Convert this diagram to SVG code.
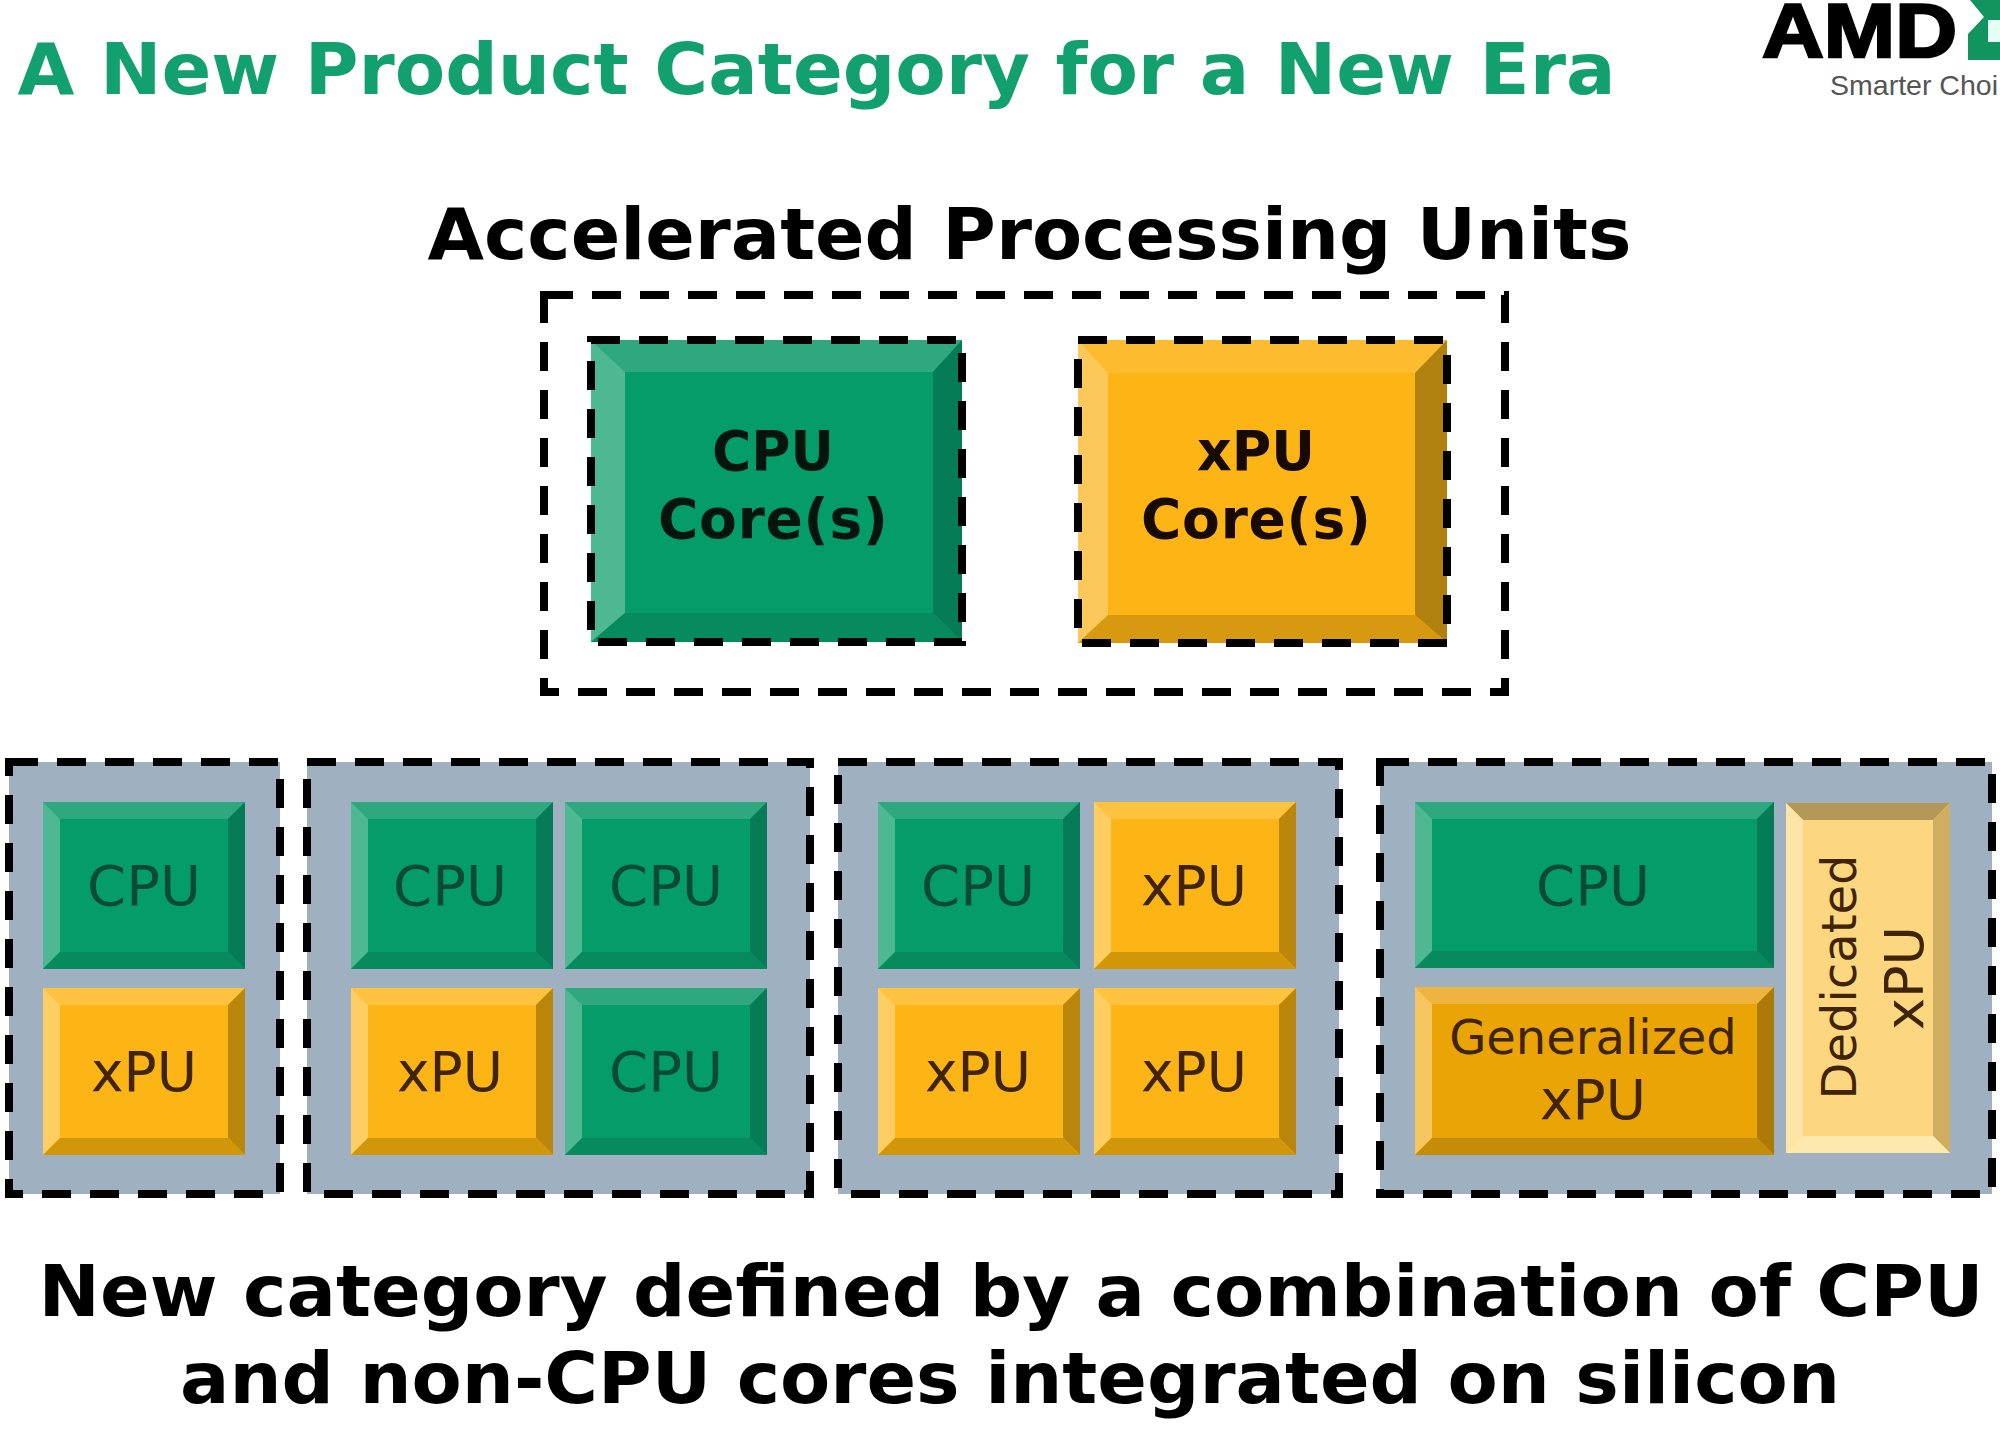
<svg xmlns="http://www.w3.org/2000/svg" xmlns:xlink="http://www.w3.org/1999/xlink" width="2000" height="1432" viewBox="0 0 2000 1432">
<style>
text{font-family:"DejaVu Sans","Liberation Sans",sans-serif;text-anchor:middle}
.h{font-weight:700;font-size:72px;fill:#000}
.title{fill:#12a06f}
.core{font-weight:700;font-size:55px;fill:#04150e}
.corex{font-weight:700;font-size:55px;fill:#170a00}
.cc{font-size:56px;fill:#0b4a35}
.xc{font-size:55px;fill:#3f2408}
.dash{fill:none;stroke:#000;stroke-width:8;stroke-dasharray:29 19}
.panel{fill:#9fb0c0}
</style>
<defs>
<g id="cpu-cell">
<rect width="202" height="167" fill="#049d6a"/>
<polygon points="0,0 202,0 185,17 17,17" fill="#2fa77f"/>
<polygon points="0,0 17,17 17,150 0,167" fill="#4db892"/>
<polygon points="202,0 202,167 185,150 185,17" fill="#057c55"/>
<polygon points="0,167 17,150 185,150 202,167" fill="#078a5e"/>
</g>
<g id="xpu-cell">
<rect width="202" height="167" fill="#fdb515"/>
<polygon points="0,0 202,0 185,17 17,17" fill="#fdc23f"/>
<polygon points="0,0 17,17 17,150 0,167" fill="#ffce62"/>
<polygon points="202,0 202,167 185,150 185,17" fill="#bb860c"/>
<polygon points="0,167 17,150 185,150 202,167" fill="#d2960a"/>
</g>
</defs>
<rect width="2000" height="1432" fill="#fff"/>
<text class="h title" x="816.500" y="94" textLength="1598" lengthAdjust="spacingAndGlyphs">A New Product Category for a New Era</text>
<g id="amd-logo">
<text x="1762" y="57" stroke="#000" stroke-width="2.500" style="text-anchor:start;font-family:'Liberation Sans',sans-serif;font-weight:700;font-size:76px" textLength="195" lengthAdjust="spacingAndGlyphs">AMD</text>
<polygon points="1970,0 2000,0 2000,20 1988,20 1988,42 2000,42 2000,60 1968,60 1968,34 1984,17" fill="#12945f"/>
<rect x="1988" y="20" width="12" height="22" fill="#e6fdf4"/>
<text x="1830" y="95" style="text-anchor:start;font-family:'Liberation Sans',sans-serif;font-size:28px" fill="#555" textLength="168" lengthAdjust="spacingAndGlyphs">Smarter Choi</text>
</g>
<text id="apu-heading" class="h" x="1029.500" y="259" textLength="1204" lengthAdjust="spacingAndGlyphs">Accelerated Processing Units</text>
<g id="apu-frame"><rect class="dash" x="544" y="295" width="961" height="397"/></g>
<g id="cpu-core">
<rect x="591" y="340" width="371" height="302" fill="#049d6a"/>
<polygon points="591,340 962,340 933,372 625,372" fill="#2fa77f"/>
<polygon points="591,340 625,372 625,613 591,642" fill="#4db892"/>
<polygon points="962,340 962,642 933,613 933,372" fill="#057c55"/>
<polygon points="591,642 625,613 933,613 962,642" fill="#078a5e"/>
<rect class="dash" x="591" y="340" width="371" height="302"/>
<text class="core" x="773" y="470" textLength="122" lengthAdjust="spacingAndGlyphs">CPU</text>
<text class="core" x="773" y="538" textLength="230" lengthAdjust="spacing">Core(s)</text>
</g>
<g id="xpu-core">
<rect x="1078" y="340" width="369" height="303" fill="#fdb515"/>
<polygon points="1078,340 1447,340 1415,373 1108,373" fill="#fdbc30"/>
<polygon points="1078,340 1108,373 1108,615 1078,643" fill="#fdc85a"/>
<polygon points="1447,340 1447,643 1415,615 1415,373" fill="#b1810f"/>
<polygon points="1078,643 1108,615 1415,615 1447,643" fill="#d6990f"/>
<rect class="dash" x="1078" y="340" width="369" height="303"/>
<text class="corex" x="1256" y="470" textLength="118" lengthAdjust="spacingAndGlyphs">xPU</text>
<text class="corex" x="1256" y="538" textLength="230" lengthAdjust="spacing">Core(s)</text>
</g>
<g id="config-1">
<rect class="panel" x="9" y="762" width="271" height="432"/>
<use href="#cpu-cell" x="43" y="802"/><text class="cc" x="144" y="905">CPU</text>
<use href="#xpu-cell" x="43" y="988"/><text class="xc" x="144" y="1091">xPU</text>
<rect class="dash" x="9" y="762" width="271" height="432"/>
</g>
<g id="config-2">
<rect class="panel" x="307" y="762" width="503" height="432"/>
<use href="#cpu-cell" x="351" y="802"/><text class="cc" x="450" y="905">CPU</text>
<use href="#cpu-cell" x="565" y="802"/><text class="cc" x="666" y="905">CPU</text>
<use href="#xpu-cell" x="351" y="988"/><text class="xc" x="450" y="1091">xPU</text>
<use href="#cpu-cell" x="565" y="988"/><text class="cc" x="666" y="1091">CPU</text>
<rect class="dash" x="307" y="762" width="503" height="432"/>
</g>
<g id="config-3">
<rect class="panel" x="838" y="762" width="501" height="432"/>
<use href="#cpu-cell" x="878" y="802"/><text class="cc" x="978" y="905">CPU</text>
<use href="#xpu-cell" x="1094" y="802"/><text class="xc" x="1194" y="905">xPU</text>
<use href="#xpu-cell" x="878" y="988"/><text class="xc" x="978" y="1091">xPU</text>
<use href="#xpu-cell" x="1094" y="988"/><text class="xc" x="1194" y="1091">xPU</text>
<rect class="dash" x="838" y="762" width="501" height="432"/>
</g>
<g id="config-4">
<rect class="panel" x="1380" y="762" width="612" height="432"/>
<g id="config-4-cpu">
<rect x="1415" y="802" width="359" height="166" fill="#049d6a"/>
<polygon points="1415,802 1774,802 1757,819 1432,819" fill="#2fa77f"/>
<polygon points="1415,802 1432,819 1432,951 1415,968" fill="#4db892"/>
<polygon points="1774,802 1774,968 1757,951 1757,819" fill="#057c55"/>
<polygon points="1415,968 1432,951 1757,951 1774,968" fill="#078a5e"/>
<text class="cc" x="1593" y="905">CPU</text>
</g>
<g id="config-4-generalized">
<rect x="1415" y="987" width="359" height="168" fill="#eaa406"/>
<polygon points="1415,987 1774,987 1757,1004 1432,1004" fill="#eeb43f"/>
<polygon points="1415,987 1432,1004 1432,1138 1415,1155" fill="#f6c55f"/>
<polygon points="1774,987 1774,1155 1757,1138 1757,1004" fill="#ab7a08"/>
<polygon points="1415,1155 1432,1138 1757,1138 1774,1155" fill="#c48c08"/>
<text class="xc" x="1593" y="1054" style="font-size:48px">Generalized</text>
<text class="xc" x="1593" y="1119">xPU</text>
</g>
<g id="config-4-dedicated">
<rect x="1786" y="803" width="164" height="350" fill="#fdd77f"/>
<polygon points="1786,803 1950,803 1933,820 1803,820" fill="#b4985a"/>
<polygon points="1786,803 1803,820 1803,1136 1786,1153" fill="#fde5a8"/>
<polygon points="1950,803 1950,1153 1933,1136 1933,820" fill="#cfae62"/>
<polygon points="1786,1153 1803,1136 1933,1136 1950,1153" fill="#fde9ae"/>
<text class="xc" transform="translate(1856 977) rotate(-90)" style="font-size:48px">Dedicated</text>
<text class="xc" transform="translate(1923 978) rotate(-90)" style="font-size:54px">xPU</text>
</g>
<rect class="dash" x="1380" y="762" width="612" height="432"/>
</g>
<g id="footer">
<text class="h" x="1011" y="1316" textLength="1945" lengthAdjust="spacingAndGlyphs">New category defined by a combination of CPU</text>
<text class="h" x="1010" y="1403" textLength="1660" lengthAdjust="spacingAndGlyphs">and non-CPU cores integrated on silicon</text>
</g>
<g id="connectors"/>
</svg>
